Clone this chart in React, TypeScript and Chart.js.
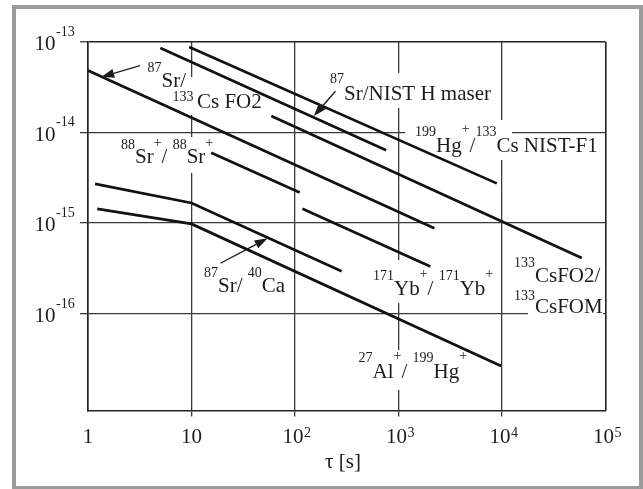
import { useEffect, useRef } from "react";
import { Chart, registerables } from "chart.js";

Chart.register(...registerables);

// Averaging time τ (s) and fractional frequency instability for each comparison
const srCsFo2Tau = [1, 2220];
const srCsFo2Sigma = [4.8e-14, 8.75e-16];

const srMaserTau = [5.0, 760];
const srMaserSigma = [8.5e-14, 6.35e-15];

const hgCsTau = [9.5, 8900];
const hgCsSigma = [8.75e-14, 2.73e-15];

const csCsTau = [59, 59000];
const csCsSigma = [1.51e-14, 4.1e-16];

const srIonTau = [15.5, 111];
const srIonSigma = [5.95e-15, 2.17e-15];

const ybTau = [118, 2030];
const ybSigma = [1.43e-15, 3.3e-16];

const srCaTau = [1.17, 10, 282];
const srCaSigma = [2.7e-15, 1.66e-15, 2.92e-16];

const alHgTau = [1.23, 10, 9800];
const alHgSigma = [1.43e-15, 9.75e-16, 2.64e-17];

// Axis decades and their labels
const xTicks = [1, 10, 100, 1000, 10000, 100000];
const xTickBase = ["1", "10", "10", "10", "10", "10"];
const xTickSup = ["", "", "2", "3", "4", "5"];
const yTicks = [1e-13, 1e-14, 1e-15, 1e-16];
const yTickSup = ["-13", "-14", "-15", "-16"];
const yMin = Math.pow(10, -17.0706);

const series = [
  { name: "87Sr/133Cs FO2", tau: srCsFo2Tau, sigma: srCsFo2Sigma },
  { name: "87Sr/NIST H maser", tau: srMaserTau, sigma: srMaserSigma },
  { name: "199Hg+/133Cs NIST-F1", tau: hgCsTau, sigma: hgCsSigma },
  { name: "133CsFO2/133CsFOM", tau: csCsTau, sigma: csCsSigma },
  { name: "88Sr+/88Sr+", tau: srIonTau, sigma: srIonSigma },
  { name: "171Yb+/171Yb+", tau: ybTau, sigma: ybSigma },
  { name: "87Sr/40Ca", tau: srCaTau, sigma: srCaSigma },
  { name: "27Al+/199Hg+", tau: alHgTau, sigma: alHgSigma },
];

// Pointer arrows from labels to curves (data coordinates: tail -> head)
const pointers = [
  { from: [3.18, 5.43e-14], to: [1.343, 4.07e-14] },
  { from: [246, 2.84e-14], to: [152, 1.51e-14] },
  { from: [19.05, 3.59e-16], to: [54.4, 6.76e-16] },
];

type Part = [string, "m" | "s" | "p"];
interface Note {
  x: number;
  y: number;
  sdy: number;
  pdy?: number;
  parts: Part[];
}

// Curve labels: left edge, baseline, superscript offsets
const notes: Note[] = [
  { x: 147.5, y: 87, sdy: -15, parts: [["87", "s"], ["Sr/", "m"]] },
  { x: 172.5, y: 108, sdy: -7, parts: [["133 ", "s"], ["Cs FO2", "m"]] },
  { x: 330, y: 100, sdy: -17, parts: [["87", "s"], ["Sr/NIST H maser", "m"]] },
  {
    x: 415, y: 152, sdy: -16, pdy: -19,
    parts: [["199", "s"], ["Hg", "m"], ["+", "p"], ["/", "m"], ["133", "s"], ["Cs NIST-F1", "m"]],
  },
  {
    x: 121, y: 162.5, sdy: -14, pdy: -16,
    parts: [["88", "s"], ["Sr", "m"], ["+", "p"], ["/ ", "m"], ["88", "s"], ["Sr", "m"], ["+", "p"]],
  },
  { x: 204, y: 291.5, sdy: -15, parts: [["87", "s"], ["Sr/ ", "m"], ["40", "s"], ["Ca", "m"]] },
  {
    x: 373, y: 295, sdy: -15, pdy: -17,
    parts: [["171", "s"], ["Yb", "m"], ["+", "p"], ["/ ", "m"], ["171", "s"], ["Yb", "m"], ["+", "p"]],
  },
  { x: 514, y: 282, sdy: -15, parts: [["133", "s"], ["CsFO2/", "m"]] },
  { x: 514, y: 313, sdy: -13, parts: [["133", "s"], ["CsFOM", "m"]] },
  {
    x: 358.5, y: 378, sdy: -16, pdy: -18,
    parts: [["27", "s"], ["Al", "m"], ["+", "p"], ["/ ", "m"], ["199", "s"], ["Hg", "m"], ["+", "p"]],
  },
];

// White label backings that interrupt the grid
const backings = [
  [168, 77, 100, 38],
  [114, 137, 103, 36],
  [326, 73, 169, 35],
  [405, 120, 107, 40],
  [368, 260, 130, 43],
  [355, 350, 115, 40],
  [528, 305, 75, 13],
];

const SERIF = '"Liberation Serif", "Times New Roman", serif';
const INK = "#1c1c1c";
const GRID = "#3a3a3a";
const FRAME = "#222222";
const LINE = "#111111";
const OUTER = "#9b9b9b";

function drawParts(ctx: CanvasRenderingContext2D, n: Note) {
  let cx = n.x;
  for (const [t, k] of n.parts) {
    ctx.font = k === "m" ? `21px ${SERIF}` : `14px ${SERIF}`;
    const dy = k === "m" ? 0 : k === "s" ? n.sdy : n.pdy ?? n.sdy;
    ctx.fillText(t, cx, n.y + dy);
    cx += ctx.measureText(t).width;
  }
}

function drawArrow(ctx: CanvasRenderingContext2D, x1: number, y1: number, x2: number, y2: number) {
  const a = Math.atan2(y2 - y1, x2 - x1);
  const len = 13;
  const half = 4.5;
  const bx = x2 - len * Math.cos(a);
  const by = y2 - len * Math.sin(a);
  ctx.beginPath();
  ctx.moveTo(x1, y1);
  ctx.lineTo(bx, by);
  ctx.stroke();
  ctx.beginPath();
  ctx.moveTo(x2, y2);
  ctx.lineTo(bx + half * Math.sin(a), by - half * Math.cos(a));
  ctx.lineTo(bx - half * Math.sin(a), by + half * Math.cos(a));
  ctx.closePath();
  ctx.fill();
}

const decorations = {
  id: "decorations",
  beforeDraw(chart: any) {
    const ctx = chart.ctx as CanvasRenderingContext2D;
    ctx.save();
    ctx.fillStyle = "#ffffff";
    ctx.fillRect(0, 0, chart.width, chart.height);
    ctx.fillStyle = OUTER;
    ctx.fillRect(12, 5, 631, 4);
    ctx.fillRect(12, 486, 631, 3);
    ctx.fillRect(12, 5, 4, 484);
    ctx.fillRect(639, 5, 4, 484);
    ctx.restore();
  },
  beforeDatasetsDraw(chart: any) {
    const ctx = chart.ctx as CanvasRenderingContext2D;
    ctx.save();
    ctx.fillStyle = "#ffffff";
    for (const [x, y, w, h] of backings) ctx.fillRect(x, y, w, h);
    ctx.fillStyle = INK;
    ctx.textBaseline = "alphabetic";
    ctx.textAlign = "left";
    for (const n of notes) drawParts(ctx, n);
    ctx.restore();
  },
  afterDatasetsDraw(chart: any) {
    const ctx = chart.ctx as CanvasRenderingContext2D;
    const xs = chart.scales.x;
    const ys = chart.scales.y;
    ctx.save();
    ctx.strokeStyle = INK;
    ctx.fillStyle = INK;
    ctx.lineWidth = 1.3;
    for (const p of pointers) {
      drawArrow(
        ctx,
        xs.getPixelForValue(p.from[0]),
        ys.getPixelForValue(p.from[1]),
        xs.getPixelForValue(p.to[0]),
        ys.getPixelForValue(p.to[1])
      );
    }
    ctx.restore();
  },
  afterDraw(chart: any) {
    const ctx = chart.ctx as CanvasRenderingContext2D;
    const xs = chart.scales.x;
    const ys = chart.scales.y;
    const area = chart.chartArea;
    ctx.save();
    ctx.fillStyle = INK;
    ctx.textBaseline = "alphabetic";
    // x tick labels
    xTicks.forEach((v, i) => {
      const px = xs.getPixelForValue(v);
      ctx.font = `21px ${SERIF}`;
      ctx.textAlign = "center";
      const shift = xTickSup[i] ? -2 : 0;
      const base = area.bottom + 32.5;
      ctx.fillText(xTickBase[i], px + shift, base);
      if (xTickSup[i]) {
        const w = ctx.measureText(xTickBase[i]).width;
        ctx.font = `14px ${SERIF}`;
        ctx.textAlign = "left";
        ctx.fillText(xTickSup[i], px + shift + w / 2 + 0.5, base - 6);
      }
    });
    // y tick labels
    yTicks.forEach((v, i) => {
      const py = ys.getPixelForValue(v);
      ctx.font = `21px ${SERIF}`;
      ctx.textAlign = "right";
      ctx.fillText("10", 55.5, py + 8.5);
      ctx.font = `14px ${SERIF}`;
      ctx.textAlign = "left";
      ctx.fillText(yTickSup[i], 56, py - 6);
    });
    // axis title
    ctx.font = `21px ${SERIF}`;
    ctx.textAlign = "center";
    ctx.fillText("τ [s]", 343, 468);
    ctx.restore();
  },
};

export default function App() {
  const ref = useRef<HTMLCanvasElement>(null);

  useEffect(() => {
    const canvas = ref.current;
    if (!canvas) return;
    const chart = new Chart(canvas, {
      type: "scatter",
      data: {
        datasets: series.map((s) => ({
          label: s.name,
          data: s.tau.map((t, i) => ({ x: t, y: s.sigma[i] })),
          showLine: true,
          borderColor: LINE,
          backgroundColor: LINE,
          borderWidth: 2.7,
          pointRadius: 0,
          pointHoverRadius: 0,
          fill: false,
          tension: 0,
        })),
      },
      options: {
        responsive: false,
        animation: false,
        devicePixelRatio: 1,
        layout: { padding: { left: 80, right: 37.5, top: 41.7, bottom: 72.5 } },
        plugins: {
          legend: { display: false },
          tooltip: { enabled: false },
          title: { display: false },
        },
        scales: {
          x: {
            type: "logarithmic",
            min: 1,
            max: 1e5,
            afterBuildTicks: (scale: any) => {
              scale.ticks = xTicks.map((v) => ({ value: v }));
            },
            ticks: { display: false },
            title: { display: false },
            grid: {
              color: (ctx: any) => (ctx.tick && ctx.tick.value === 1e5 ? FRAME : GRID),
              lineWidth: (ctx: any) => (ctx.tick && ctx.tick.value === 1e5 ? 1.6 : 1.3),
              drawTicks: true,
              tickLength: 6,
              tickWidth: 1.3,
              tickColor: (ctx: any) =>
                ctx.index === 0 || ctx.index === xTicks.length - 1 ? "rgba(0,0,0,0)" : GRID,
            },
            border: { display: true, color: FRAME, width: 1.6 },
          },
          y: {
            type: "logarithmic",
            min: yMin,
            max: 1e-13,
            afterBuildTicks: (scale: any) => {
              scale.ticks = yTicks.map((v) => ({ value: v }));
            },
            ticks: { display: false },
            title: { display: false },
            grid: {
              color: (ctx: any) => (ctx.tick && ctx.tick.value === 1e-13 ? FRAME : GRID),
              lineWidth: (ctx: any) => (ctx.tick && ctx.tick.value === 1e-13 ? 1.6 : 1.3),
              drawTicks: true,
              tickLength: 8,
              tickWidth: 1.3,
              tickColor: GRID,
            },
            border: { display: true, color: FRAME, width: 1.6 },
          },
        },
      },
      plugins: [decorations],
    } as any);
    return () => chart.destroy();
  }, []);

  return (
    <div style={{ position: "absolute", left: 0, top: 0, width: 643, height: 489 }}>
      <canvas ref={ref} width={643} height={489} style={{ display: "block" }} />
    </div>
  );
}
